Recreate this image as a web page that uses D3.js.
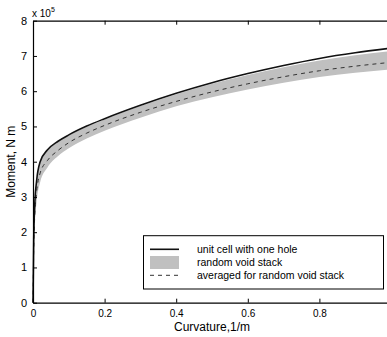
<!DOCTYPE html>
<html lang="en">
<head>
<meta charset="utf-8">
<title>Moment vs Curvature</title>
<script src="https://cdn.jsdelivr.net/npm/d3@7"></script>
<style>
  body { margin: 0; background: #fff; }
  svg { display: block; overflow: hidden; }
  text { font-family: "Liberation Sans", Arial, Helvetica, sans-serif; fill: #000; }
</style>
</head>
<body>
<script>
// curvature samples (1/m)
const curvature = [0, 0.002, 0.005, 0.01, 0.02, 0.04, 0.07, 0.1, 0.15, 0.2, 0.3, 0.4, 0.5, 0.6, 0.7, 0.8, 0.9, 1.0];
// moment, in units of 1e5 N m
const unitCell  = [0, 1.8, 2.8, 3.45, 4.0, 4.33, 4.58, 4.76, 5.01, 5.22, 5.60, 5.94, 6.24, 6.50, 6.73, 6.93, 7.09, 7.22];
const bandUpper = [0, 1.8, 2.8, 3.45, 3.98, 4.31, 4.56, 4.74, 4.99, 5.20, 5.58, 5.91, 6.21, 6.46, 6.68, 6.87, 7.02, 7.14];
const bandLower = [0, 1.2, 2.2, 2.85, 3.42, 3.83, 4.16, 4.38, 4.66, 4.88, 5.25, 5.57, 5.83, 6.05, 6.24, 6.40, 6.52, 6.62];
const averaged  = [0, 1.5, 2.5, 3.13, 3.68, 4.03, 4.32, 4.54, 4.81, 5.03, 5.40, 5.71, 5.98, 6.21, 6.41, 6.58, 6.71, 6.82];

const xTicks = [0, 0.2, 0.4, 0.6, 0.8];
const yTicks = [0, 1, 2, 3, 4, 5, 6, 7, 8];
const legendLabels = ["unit cell with one hole", "random void stack", "averaged for random void stack"];

let w = 387, h = 337;
let mLeft = 33, mRight = 391, mTop = 20.7, mBottom = 302.7;

let x = d3.scaleLinear().domain([0, 1]).range([mLeft, mRight]);
let y = d3.scaleLinear().domain([0, 8]).range([mBottom, mTop]);

let svg = d3.select("body").append("svg")
  .attr("width", w).attr("height", h);

let rows = curvature.map((c, i) => ({ c: c, u: unitCell[i], hi: bandUpper[i], lo: bandLower[i], a: averaged[i] }));

// band
let area = d3.area()
  .x(d => x(d.c))
  .y0(d => y(d.lo))
  .y1(d => y(d.hi))
  .curve(d3.curveMonotoneX);
svg.append("path").datum(rows)
  .attr("d", area)
  .attr("fill", "#c0c0c0");

// averaged (dashed)
svg.append("path").datum(rows)
  .attr("d", d3.line().x(d => x(d.c)).y(d => y(d.a)).curve(d3.curveMonotoneX))
  .attr("fill", "none")
  .attr("stroke", "#333")
  .attr("stroke-width", 1)
  .attr("stroke-dasharray", "4,4");

// unit cell (solid)
svg.append("path").datum(rows)
  .attr("d", d3.line().x(d => x(d.c)).y(d => y(d.u)).curve(d3.curveMonotoneX))
  .attr("fill", "none")
  .attr("stroke", "#111")
  .attr("stroke-width", 1.6);

// axes
let xAxis = d3.axisBottom(x).tickValues(xTicks).tickSizeInner(-4).tickSizeOuter(0)
  .tickPadding(7).tickFormat(d3.format(""));
let gx = svg.append("g").attr("transform", `translate(0,${mBottom})`).call(xAxis);
gx.selectAll("text").attr("font-size", "10px");

svg.append("g").attr("transform", `translate(0,${mTop})`)
  .call(d3.axisTop(x).tickValues(xTicks).tickSizeInner(-4).tickSizeOuter(0).tickFormat(""));

let yAxis = d3.axisLeft(y).tickValues(yTicks).tickSizeInner(-4).tickSizeOuter(0).tickPadding(6);
let gy = svg.append("g").attr("transform", `translate(${mLeft},0)`).call(yAxis);
gy.selectAll("text").attr("font-size", "11px");

svg.append("g").attr("transform", `translate(${mRight},0)`)
  .call(d3.axisRight(y).tickValues(yTicks).tickSizeInner(-4).tickSizeOuter(0).tickFormat(""));

svg.selectAll(".domain").attr("stroke", "#000").attr("stroke-width", 1.2);
svg.selectAll(".tick line").attr("stroke", "#000");
svg.selectAll(".tick text").attr("fill", "#000").style("font-family", "'Liberation Sans', Arial, sans-serif");

// exponent label
let expo = svg.append("text").attr("x", mLeft - 1).attr("y", 17).attr("font-size", "10px");
expo.append("tspan").text("x 10");
expo.append("tspan").attr("dy", -5).attr("font-size", "7px").text("5");

// axis titles
svg.append("text")
  .attr("x", (mLeft + mRight) / 2).attr("y", 331)
  .attr("text-anchor", "middle").attr("font-size", "12px")
  .text("Curvature,1/m");

svg.append("text")
  .attr("transform", `translate(15,${(mTop + mBottom) / 2}) rotate(-90)`)
  .attr("text-anchor", "middle").attr("font-size", "12px")
  .text("Moment, N m");

// legend
let lg = svg.append("g");
lg.append("rect")
  .attr("x", 143.5).attr("y", 235.7).attr("width", 240).attr("height", 53.3)
  .attr("fill", "#fff").attr("stroke", "#000").attr("stroke-width", 1);

let rowY = [249.3, 262.5, 275.3];
lg.append("line").attr("x1", 150).attr("x2", 179).attr("y1", rowY[0]).attr("y2", rowY[0])
  .attr("stroke", "#111").attr("stroke-width", 1.6);
lg.append("rect").attr("x", 150).attr("y", rowY[1] - 6.5).attr("width", 29).attr("height", 13)
  .attr("fill", "#c0c0c0");
lg.append("line").attr("x1", 150).attr("x2", 179).attr("y1", rowY[2]).attr("y2", rowY[2])
  .attr("stroke", "#333").attr("stroke-width", 1).attr("stroke-dasharray", "4,4");

lg.selectAll("text.leg").data(legendLabels).enter().append("text")
  .attr("class", "leg")
  .attr("x", 197).attr("y", (d, i) => rowY[i] + 3.8)
  .attr("font-size", "10.5px")
  .text(d => d);
</script>
</body>
</html>
